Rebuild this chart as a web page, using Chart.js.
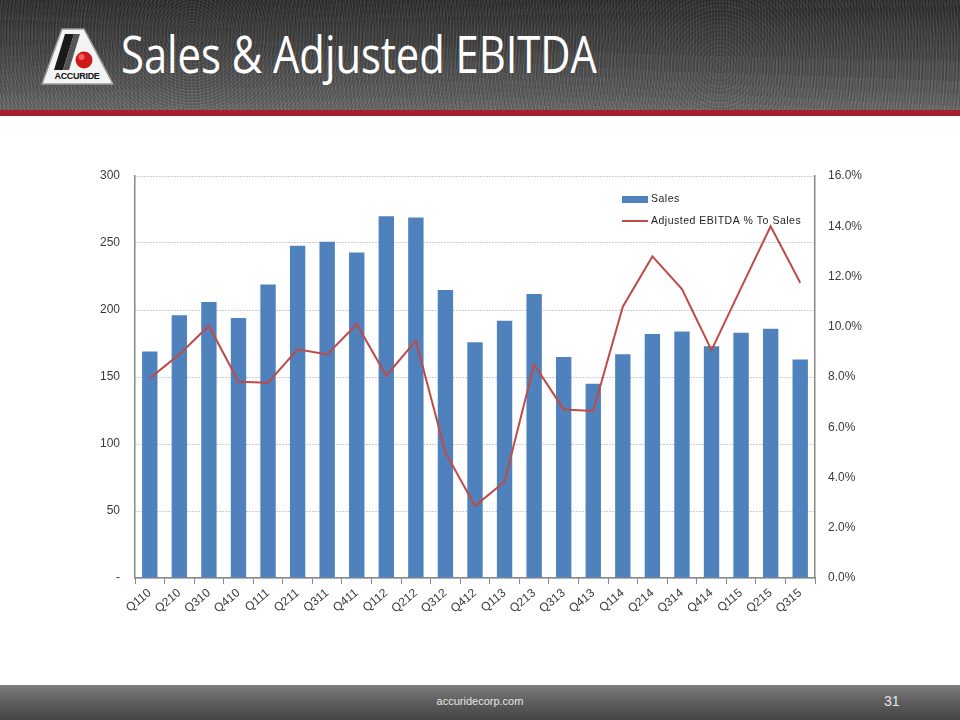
<!DOCTYPE html>
<html lang="en">
<head>
    <meta charset="UTF-8">
    <title>Sales &amp; Adjusted EBITDA</title>
    <script src="https://cdn.jsdelivr.net/npm/chart.js@4.4.0/dist/chart.umd.min.js"></script>
    <style>
        html, body{
            margin: 0;
            padding: 0;
            width: 960px;
            height: 720px;
            overflow: hidden;
            background: #fff;
            font-family: 'Liberation Sans', Arial, sans-serif;
        }
        .header{
            position: absolute;
            left: 0; top: 0;
            width: 960px; height: 110px;
            background:
                repeating-radial-gradient(circle at 20% 30%, rgba(255,255,255,0.05) 0 1px, rgba(0,0,0,0.08) 2px 3px),
                repeating-radial-gradient(circle at 75% 60%, rgba(255,255,255,0.04) 0 1px, rgba(0,0,0,0.06) 2px 4px),
                linear-gradient(180deg, #2e2e2e 0%, #4a4a4a 55%, #5b5d5c 85%, #6a6a6a 100%);
        }
        .redline{
            position: absolute;
            left: 0; top: 110px;
            width: 960px; height: 6px;
            background: #a51f2e;
        }
        .title{
            position: absolute;
            left: 121px; top: 27px;
            color: #fff;
            font-family: 'Open Sans', sans-serif;
            font-size: 52px;
            line-height: 1;
            white-space: nowrap;
            transform-origin: left top;
        }
        .logo{
            position: absolute;
            left: 38px; top: 26px;
        }
        .footer{
            position: absolute;
            left: 0; top: 685px;
            width: 960px; height: 35px;
            background: linear-gradient(180deg, #7d7d7d 0%, #5a5a5a 55%, #454545 100%);
            color: #e6e6e6;
        }
        .footer .site{
            position: absolute;
            left: 0; width: 960px; top: 10px;
            text-align: center;
            font-size: 11px;
        }
        .footer .page{
            position: absolute;
            left: 884px; top: 8px;
            font-size: 14px;
        }
        .chart-box{
            position: absolute;
            left: 0; top: 120px;
            width: 960px; height: 560px;
        }
    </style>
</head>
<body>
    <div class="header"></div>
    <div class="redline"></div>
    <svg class="logo" width="80" height="62" viewBox="0 0 80 62">
        <polygon points="24,3 46,3 75,58 4,58" fill="#f4f4f4" stroke="#9a9a9a" stroke-width="1.5"/>
        <polygon points="27,8 36,8 25,44 16,44" fill="#1a1a1a"/>
        <polygon points="36,8 42,8 31,44 25,44" fill="#555"/>
        <circle cx="46" cy="34" r="8.5" fill="#d01818"/>
        <circle cx="43.5" cy="31" r="3" fill="#ff8080" opacity="0.7"/>
        <text x="39" y="53" text-anchor="middle" font-family="Liberation Sans" font-weight="bold" font-size="9" fill="#111" letter-spacing="-0.3">ACCURIDE</text>
    </svg>
    <div class="title" id="title">Sales &amp; Adjusted EBITDA</div>

    <div class="chart-box"><canvas id="chart" width="960" height="560"></canvas></div>

    <div class="footer">
        <div class="site">accuridecorp.com</div>
        <div class="page">31</div>
    </div>

    <script>
        const quarters = ['Q110','Q210','Q310','Q410','Q111','Q211','Q311','Q411','Q112','Q212','Q312','Q412',
                          'Q113','Q213','Q313','Q413','Q114','Q214','Q314','Q414','Q115','Q215','Q315'];
        const sales = [169, 196, 206, 194, 219, 248, 251, 243, 270, 269, 215, 176,
                       192, 212, 165, 145, 167, 182, 184, 173, 183, 186, 163];
        const ebitdaPct = [0.0795, 0.089, 0.1004, 0.0781, 0.0777, 0.091, 0.089, 0.101, 0.0805, 0.0945, 0.050, 0.0287,
                           0.0383, 0.085, 0.0671, 0.0665, 0.108, 0.128, 0.115, 0.0907, 0.1155, 0.140, 0.1175];

        // squeeze the title to the width it has on the slide
        (function(){
            const t = document.getElementById('title');
            const w = t.getBoundingClientRect().width;
            t.style.transform = 'scaleX(' + (476 / w) + ')';
        })();

        const tickColor = '#3a3a3a';
        const tickFont = { family: "'Liberation Sans', Arial, sans-serif", size: 12 };

        // legend sits inside the plot, top right
        const innerLegend = {
            id: 'innerLegend',
            afterDraw(chart){
                const ctx = chart.ctx;
                const x = 622, y1 = 79, y2 = 101;
                ctx.save();
                ctx.letterSpacing = '0.5px';
                ctx.fillStyle = '#4F81BD';
                ctx.fillRect(x, y1 - 3, 26, 7);
                ctx.strokeStyle = '#BE4B48';
                ctx.lineWidth = 2;
                ctx.beginPath();
                ctx.moveTo(x, y2);
                ctx.lineTo(x + 26, y2);
                ctx.stroke();
                ctx.fillStyle = '#222';
                ctx.font = "10.5px 'Liberation Sans', Arial, sans-serif";
                ctx.textBaseline = 'middle';
                ctx.fillText('Sales', x + 29, y1);
                ctx.fillText('Adjusted EBITDA % To Sales', x + 29, y2);
                ctx.restore();
            }
        };

        const ctx = document.getElementById('chart').getContext('2d');
        ctx.letterSpacing = '1px';

        new Chart(ctx, {
            data: {
                labels: quarters,
                datasets: [
                    {
                        type: 'line',
                        label: 'Adjusted EBITDA % To Sales',
                        data: ebitdaPct,
                        yAxisID: 'y1',
                        borderColor: '#BE4B48',
                        borderWidth: 2,
                        pointRadius: 0,
                        tension: 0,
                        fill: false,
                        order: 0
                    },
                    {
                        type: 'bar',
                        label: 'Sales',
                        data: sales,
                        yAxisID: 'y',
                        backgroundColor: '#4F81BD',
                        barPercentage: 0.52,
                        categoryPercentage: 1.0,
                        order: 1
                    }
                ]
            },
            options: {
                responsive: false,
                animation: false,
                layout: { padding: { top: 56, left: 0, right: 0, bottom: 0 } },
                plugins: {
                    legend: { display: false },
                    tooltip: { enabled: false }
                },
                scales: {
                    x: {
                        afterFit(scale){ scale.height = 102; },
                        grid: {
                            drawOnChartArea: false,
                            drawTicks: true,
                            tickLength: 6,
                            color: '#888'
                        },
                        border: { color: '#888', width: 1.5 },
                        ticks: {
                            color: tickColor,
                            font: tickFont,
                            minRotation: 40,
                            maxRotation: 40,
                            autoSkip: false,
                            padding: 2
                        }
                    },
                    y: {
                        position: 'left',
                        min: 0, max: 300,
                        afterFit(scale){ scale.width = 135; },
                        grid: {
                            color: '#9a9a9a',
                            drawTicks: false
                        },
                        border: { color: '#888', width: 1.5, dash: [1, 2] },
                        ticks: {
                            stepSize: 50,
                            color: tickColor,
                            font: tickFont,
                            padding: 15,
                            callback: v => v === 0 ? '-' : v
                        }
                    },
                    y1: {
                        position: 'right',
                        min: 0, max: 0.16,
                        afterFit(scale){ scale.width = 145; },
                        grid: { drawOnChartArea: false, drawTicks: false },
                        border: { color: '#888', width: 1.5 },
                        ticks: {
                            stepSize: 0.02,
                            color: tickColor,
                            font: tickFont,
                            padding: 13,
                            callback: v => (v * 100).toFixed(1) + '%'
                        }
                    }
                }
            },
            plugins: [innerLegend]
        });
    </script>
</body>
</html>
